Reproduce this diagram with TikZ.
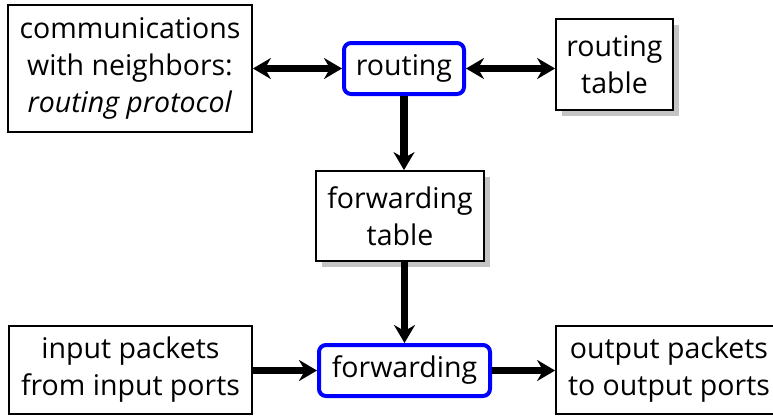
\documentclass[tikz,border=0pt]{standalone}
\usepackage{fontspec}
\setmainfont{Open Sans}
\usetikzlibrary{arrows.meta, positioning, calc, shadows}
\definecolor{rtblue}{HTML}{0000FF}
\definecolor{shgray}{HTML}{C4C4C4}

\begin{document}
\begin{tikzpicture}[
  x=1pt, y=-1pt,
  >={Stealth[length=18pt, width=21pt, inset=6pt]},
  plainbox/.style={draw=black, line width=1.8pt, fill=white, align=center,
    inner sep=0pt, font=\fontsize{28.5}{37}\selectfont},
  shadebox/.style={plainbox, drop shadow={shadow xshift=6pt, shadow yshift=-6pt,
    fill=shgray, opacity=1}},
  funcbox/.style={draw=rtblue, line width=4pt, fill=white, rounded corners=7pt,
    align=center, inner sep=0pt, font=\fontsize{28.5}{37}\selectfont},
  arr/.style={->, line width=7.5pt, black},
  dblarr/.style={<->, line width=7.5pt, black},
]

% Canvas
\useasboundingbox (0,0) rectangle (773,416);
\clip (0,0) rectangle (773,416);

% === Control plane ===
\node[plainbox, minimum width=244pt, minimum height=127pt] (neigh) at (130,68.5)
  {communications\\with neighbors:\\\textit{routing protocol}};
\node[funcbox, minimum width=120pt, minimum height=51pt] (routing) at (404,68.5)
  {routing};
\node[shadebox, minimum width=117pt, minimum height=91pt] (rtable) at (614.5,64.5)
  {routing\\table};

% Arrows: neighbors <-> routing <-> table
\draw[dblarr] (neigh.east) -- (routing.west);
\draw[dblarr] (routing.east) -- (rtable.west |- routing.east);

% === Forwarding table ===
\node[shadebox, minimum width=168pt, minimum height=90pt] (ftable) at (400,216)
  {forwarding\\table};

% Arrow: routing -> forwarding table
\draw[arr] (routing.south) -- (routing.south |- ftable.north);

% === Data plane ===
\node[plainbox, minimum width=243pt, minimum height=88pt] (inpkt) at (130.5,370)
  {input packets\\from input ports};
\node[funcbox, minimum width=171pt, minimum height=51pt] (fwd) at (404.5,370.5)
  {forwarding};
\node[plainbox, minimum width=226pt, minimum height=88pt] (outpkt) at (669,370)
  {output packets\\to output ports};

% Arrows: table -> forwarding, input -> forwarding -> output
\draw[arr] (fwd.north |- ftable.south) -- (fwd.north);
\draw[arr] (inpkt.east |- fwd.west) -- (fwd.west);
\draw[arr] (fwd.east) -- (outpkt.west |- fwd.east);

\end{tikzpicture}
\end{document}
